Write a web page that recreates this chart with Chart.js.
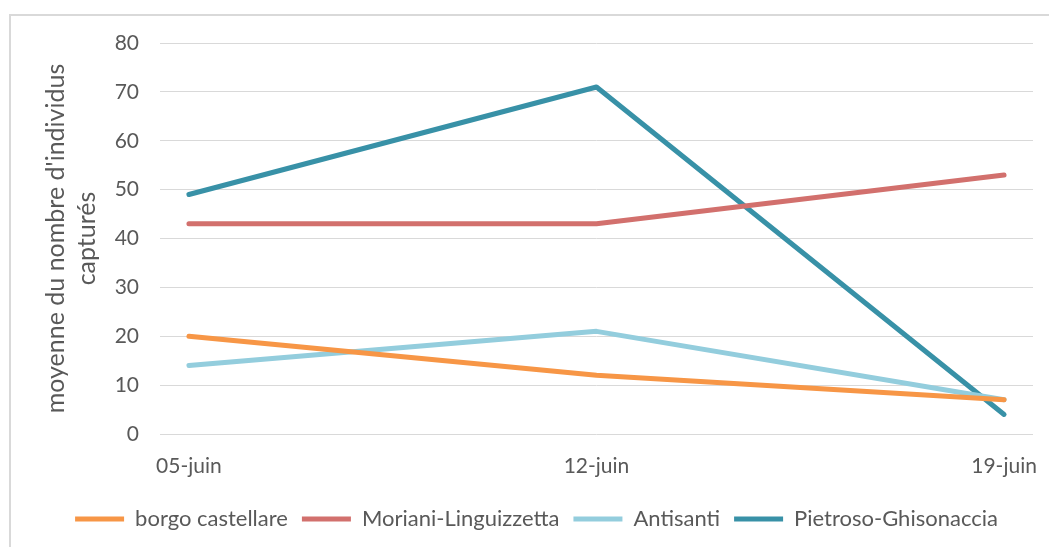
<!DOCTYPE html>
<html>
<head>
<meta charset="utf-8">
<script src="https://cdn.jsdelivr.net/npm/chart.js@4"></script>
<style>
  html, body { margin: 0; padding: 0; background: #fff; overflow: hidden; }
  #frame { position: absolute; left: 9px; top: 14px; width: 1200px; height: 700px; border: 2px solid #d9d9d9; }
  #chart { position: absolute; left: 0; top: 0; }
</style>
</head>
<body>
<div id="frame"></div>
<canvas id="chart" width="1049" height="547"></canvas>
<script>
var dates = ["05-juin", "12-juin", "19-juin"];
var borgo = [20, 12, 7];
var moriani = [43, 43, 53];
var antisanti = [14, 21, 7];
var pietroso = [49, 71, 4];
var yTitle = ["moyenne du nombre d'individus", "capturés"];

var FONT = "Lato, 'Open Sans', sans-serif";
var GREY = "#595959";

function pts(arr) {
  return arr.map((v, i) => ({ x: i, y: v }));
}

function serie(label, arr, color) {
  return {
    label: label,
    data: pts(arr),
    borderColor: color,
    backgroundColor: color,
    borderWidth: 5,
    borderCapStyle: "round",
    borderJoinStyle: "round",
    pointRadius: 0,
    fill: false,
    tension: 0
  };
}

new Chart(document.getElementById("chart"), {
  type: "line",
  data: {
    datasets: [
      serie("borgo castellare", borgo, "#f79646"),
      serie("Moriani-Linguizzetta", moriani, "#d2706d"),
      serie("Antisanti", antisanti, "#93cddd"),
      serie("Pietroso-Ghisonaccia", pietroso, "#3891a7")
    ]
  },
  options: {
    responsive: false,
    animation: false,
    devicePixelRatio: 1,
    layout: { padding: { left: 40, right: 16, top: 43, bottom: 7 } },
    scales: {
      x: {
        type: "linear",
        min: -0.071,
        max: 2.071,
        afterBuildTicks: (scale) => { scale.ticks = dates.map((d, i) => ({ value: i })); },
        afterFit: (scale) => {
          scale.height = 60;
          scale.paddingLeft = 0;
          scale.paddingRight = 0;
        },
        grid: { display: false, drawTicks: false },
        border: { display: false },
        ticks: {
          callback: (v) => dates[v],
          autoSkip: false,
          maxRotation: 0,
          padding: 20,
          color: GREY,
          font: { family: FONT, size: 21 }
        }
      },
      y: {
        min: 0,
        max: 80,
        afterFit: (scale) => { scale.width = 120; },
        grid: { color: "#d9d9d9", lineWidth: 1, drawTicks: false },
        border: { display: false },
        ticks: {
          stepSize: 10,
          padding: 21,
          color: GREY,
          font: { family: FONT, size: 21 }
        },
        title: {
          display: true,
          text: yTitle,
          color: GREY,
          padding: { top: 0, bottom: 0 },
          font: { family: FONT, size: 25, lineHeight: 1.25 }
        }
      }
    },
    plugins: {
      legend: {
        position: "bottom",
        labels: {
          usePointStyle: true,
          pointStyle: "line",
          pointStyleWidth: 49,
          boxHeight: 19,
          padding: 14,
          color: GREY,
          font: { family: FONT, size: 22 }
        }
      },
      tooltip: { enabled: false }
    }
  }
});
</script>
</body>
</html>
